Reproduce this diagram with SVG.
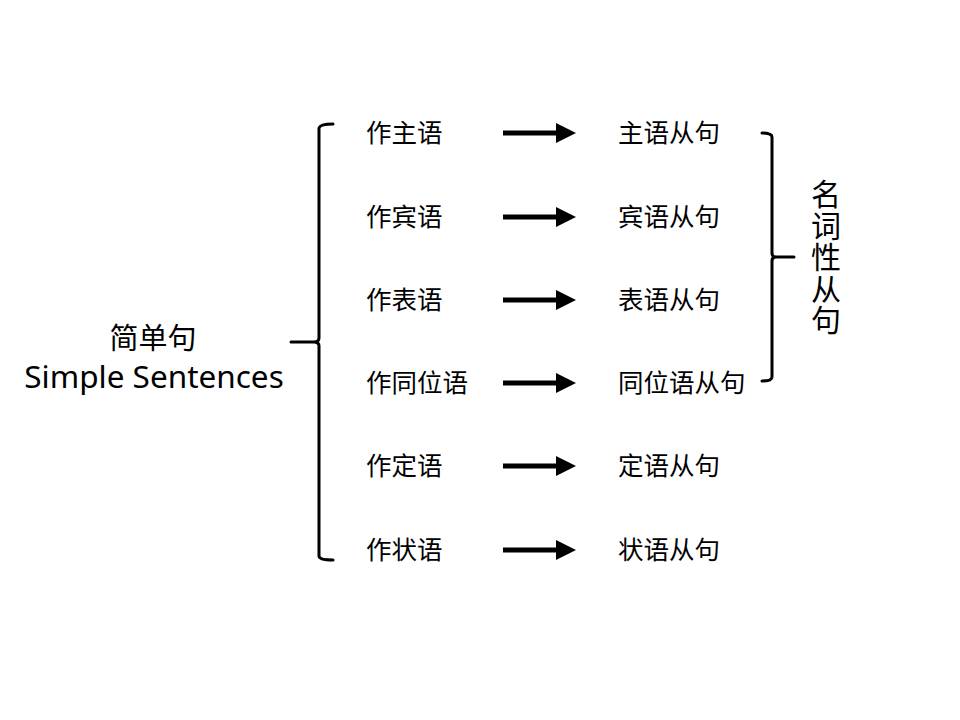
<svg xmlns="http://www.w3.org/2000/svg" width="960" height="720" viewBox="0 0 960 720">
<defs>
<style>
.t{font-family:"Noto Sans CJK SC","Noto Sans",sans-serif;font-size:25.5px;fill:#000}
.big{font-family:"Noto Sans CJK SC","Noto Sans",sans-serif;font-size:29px;fill:#000}
.lat{font-family:"Noto Sans","Noto Sans CJK SC",sans-serif;font-size:31.5px}
.vt{font-family:"Noto Sans CJK SC",sans-serif;font-size:30px;fill:#000;writing-mode:vertical-rl;letter-spacing:1.5px}
.br{fill:none;stroke:#000;stroke-width:3;stroke-linejoin:round;stroke-linecap:round}
.ar{stroke:#000;stroke-width:5;fill:none}
</style>
<marker id="ah" markerWidth="4" markerHeight="4" refX="0" refY="2" orient="auto" markerUnits="strokeWidth">
<path d="M0,0 L4,2 L0,4 Z" fill="#000"/>
</marker>
</defs>
<rect width="960" height="720" fill="#fff"/>
<g id="root">
<text class="big" text-anchor="middle"><tspan x="153" y="349">简单句</tspan><tspan class="lat" x="154" y="388">Simple Sentences</tspan></text>
</g>
<g id="left-items">
<text class="t" x="366" y="142">作主语</text>
<text class="t" x="366" y="226">作宾语</text>
<text class="t" x="366" y="309">作表语</text>
<text class="t" x="366" y="392">作同位语</text>
<text class="t" x="366" y="475">作定语</text>
<text class="t" x="366" y="559">作状语</text>
</g>
<g id="right-items">
<text class="t" x="618" y="142">主语从句</text>
<text class="t" x="618" y="226">宾语从句</text>
<text class="t" x="618" y="309">表语从句</text>
<text class="t" x="618" y="392">同位语从句</text>
<text class="t" x="618" y="475">定语从句</text>
<text class="t" x="618" y="559">状语从句</text>
</g>
<g id="noun-clause">
<text class="vt" x="826" y="179">名词性从句</text>
</g>
<g id="connectors">
<path class="br" d="M333,124 Q320,124 319,128 L319,338 Q319,342 314,342 L291,342 M314,342 Q319,342 319,346 L319,556 Q319,560 333,560"/>
<path class="br" d="M762,133 Q772,133 772,137 L772,253 Q772,257 776,257 L794,257 M776,257 Q772,257 772,261 L772,377 Q772,381 762,381"/>
<line class="ar" x1="503" y1="133" x2="556" y2="133" marker-end="url(#ah)"/>
<line class="ar" x1="503" y1="217" x2="556" y2="217" marker-end="url(#ah)"/>
<line class="ar" x1="503" y1="300" x2="556" y2="300" marker-end="url(#ah)"/>
<line class="ar" x1="503" y1="383" x2="556" y2="383" marker-end="url(#ah)"/>
<line class="ar" x1="503" y1="466" x2="556" y2="466" marker-end="url(#ah)"/>
<line class="ar" x1="503" y1="550" x2="556" y2="550" marker-end="url(#ah)"/>
</g>
</svg>
